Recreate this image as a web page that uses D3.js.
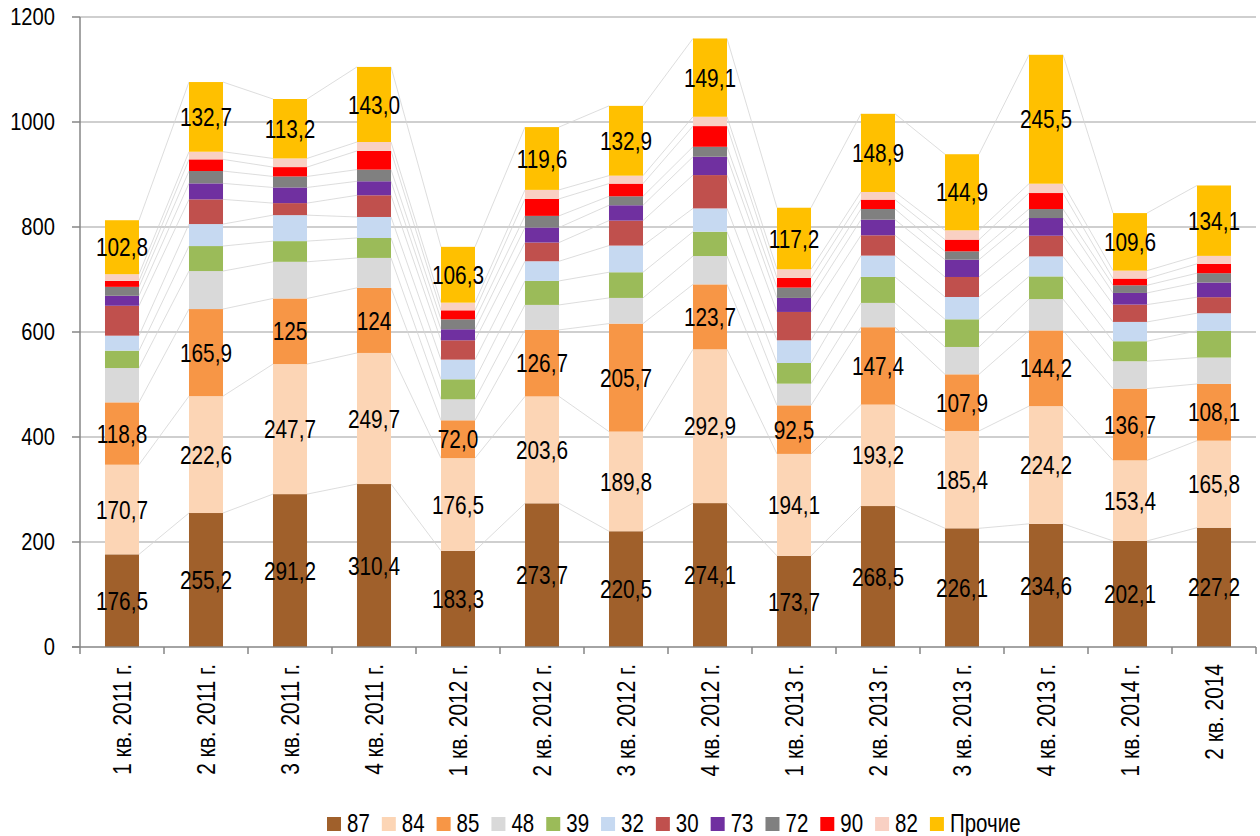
<!DOCTYPE html>
<html>
<head>
<meta charset="utf-8">
<script src="https://cdn.jsdelivr.net/npm/d3@7"></script>
<style>
  body { margin: 0; background: #fff; }
  svg { display: block; }
  text { font-family: "Liberation Sans", Arial, sans-serif; font-size: 24px; fill: #000; }
  .dl { font-size: 26px; }
  .xl { font-size: 25.5px; }
  .lg { font-size: 25px; }
</style>
</head>
<body>
<div id="chart"></div>
<script>
// quarters
var categories = ["1 кв. 2011 г.", "2 кв. 2011 г.", "3 кв. 2011 г.", "4 кв. 2011 г.",
  "1 кв. 2012 г.", "2 кв. 2012 г.", "3 кв. 2012 г.", "4 кв. 2012 г.",
  "1 кв. 2013 г.", "2 кв. 2013 г.", "3 кв. 2013 г.", "4 кв. 2013 г.",
  "1 кв. 2014 г.", "2 кв. 2014"]

// values per region code, bottom to top
var s87 = [176.5, 255.2, 291.2, 310.4, 183.3, 273.7, 220.5, 274.1, 173.7, 268.5, 226.1, 234.6, 202.1, 227.2]
var s84 = [170.7, 222.6, 247.7, 249.7, 176.5, 203.6, 189.8, 292.9, 194.1, 193.2, 185.4, 224.2, 153.4, 165.8]
var s85 = [118.8, 165.9, 125, 124, 72.0, 126.7, 205.7, 123.7, 92.5, 147.4, 107.9, 144.2, 136.7, 108.1]
var s48 = [65.4, 72.4, 69.8, 57, 40, 47.6, 48.9, 54, 41.3, 46.3, 52.1, 59.7, 52.1, 50.2]
var s39 = [33, 47.6, 39.4, 38, 38.1, 45.7, 48.9, 46.3, 39.4, 49.5, 52.7, 43.2, 38.1, 50.8]
var s32 = [28.6, 41.9, 49.5, 40, 37.5, 37.5, 50.8, 44.4, 43.2, 40.6, 42.5, 38.1, 36.8, 33.7]
var s30 = [57, 47, 22.9, 41.3, 36.8, 35.6, 47.6, 63.5, 54, 38.7, 38.1, 39.4, 33, 30.5]
var s73 = [19, 30.5, 29.8, 26.7, 21, 28.6, 29.2, 34.9, 26.7, 29.8, 33, 33.7, 22.2, 27.9]
var s72 = [17, 23.5, 21, 22.2, 19, 22.2, 17.1, 19, 19.7, 20.3, 15.9, 17.1, 14.6, 17.8]
var s90 = [11.4, 22.2, 17.8, 35.6, 17.1, 32.4, 24.1, 39.4, 18.4, 17.8, 22.2, 30.5, 12.7, 17.8]
var s82 = [12.7, 14.6, 16.5, 17, 14.6, 17.1, 15.2, 17.8, 16.5, 14.6, 17.8, 17.8, 15.2, 15.2]
var sOther = [102.8, 132.7, 113.2, 143.0, 106.3, 119.6, 132.9, 149.1, 117.2, 148.9, 144.9, 245.5, 109.6, 134.1]

var seriesNames = ["87", "84", "85", "48", "39", "32", "30", "73", "72", "90", "82", "Прочие"]
var seriesValues = [s87, s84, s85, s48, s39, s32, s30, s73, s72, s90, s82, sOther]
var colors = ["#A0602B", "#FCD5B5", "#F79646", "#D9D9D9", "#9BBB59", "#C6D9F1",
  "#C0504D", "#7030A0", "#808080", "#FF0000", "#F9D0C3", "#FFC000"]
var labelled = ["87", "84", "85", "Прочие"]
// the source shows these two without a decimal
var wholeLabels = {"85": [2, 3]}
var yTicks = [0, 200, 400, 600, 800, 1000, 1200]

var width = 1260, height = 836
var narrow = 0.82   // fake Arial Narrow by squeezing Liberation Sans
var svg = d3.select("#chart").append("svg").attr("width", width).attr("height", height)

var x = d3.scaleBand().domain(categories).range([80, 1256]).paddingInner(0.595).paddingOuter(0.2975)
var y = d3.scaleLinear().domain([0, 1200]).range([647, 17])
var bw = x.bandwidth()

function ntext(g, tx, ty, str, anchor, rot, cls, sx) {
  var tr = "translate(" + tx + "," + ty + ")" + (rot ? " rotate(" + rot + ")" : "") + " scale(" + (sx || narrow) + ",1)"
  return g.append("text").attr("class", cls || null).attr("transform", tr)
    .attr("text-anchor", anchor).attr("dy", "0.35em").text(str)
}

var rows = categories.map(function(c, i) {
  var r = {cat: c}
  seriesNames.forEach(function(s, k) { r[s] = seriesValues[k][i] })
  return r
})
var stacked = d3.stack().keys(seriesNames)(rows)

// gridlines
svg.append("g").selectAll("line").data(yTicks.slice(1)).enter().append("line")
  .attr("x1", 80).attr("x2", 1256)
  .attr("y1", function(d) { return y(d) }).attr("y2", function(d) { return y(d) })
  .attr("stroke", "#BFBFBF").attr("stroke-width", 1.5)

// series lines between bars
var sl = svg.append("g")
stacked.forEach(function(layer) {
  for (var i = 0; i < categories.length - 1; i++) {
    sl.append("line")
      .attr("x1", x(categories[i]) + bw).attr("y1", y(layer[i][1]))
      .attr("x2", x(categories[i + 1])).attr("y2", y(layer[i + 1][1]))
      .attr("stroke", "#D4D4D4").attr("stroke-width", 0.8)
  }
})

// bars
svg.append("g").selectAll("g").data(stacked).enter().append("g")
  .attr("fill", function(d, k) { return colors[k] })
  .selectAll("rect").data(function(d) { return d }).enter().append("rect")
    .attr("x", function(d) { return x(d.data.cat) })
    .attr("width", bw)
    .attr("y", function(d) { return y(d[1]) })
    .attr("height", function(d) { return y(d[0]) - y(d[1]) })

// data labels
function fmt(key, v, i) {
  if (wholeLabels[key] && wholeLabels[key].indexOf(i) >= 0) return d3.format(".0f")(v)
  return d3.format(".1f")(v).replace(".", ",")
}
var lbl = svg.append("g")
stacked.forEach(function(layer) {
  if (labelled.indexOf(layer.key) < 0) return
  layer.forEach(function(d, i) {
    ntext(lbl, x(d.data.cat) + bw / 2, y((d[0] + d[1]) / 2), fmt(layer.key, d[1] - d[0], i), "middle", 0, "dl", 0.8)
  })
})

// y axis
var ya = svg.append("g")
ya.append("line").attr("x1", 80).attr("x2", 80).attr("y1", y(0)).attr("y2", y(1200))
  .attr("stroke", "#868686").attr("stroke-width", 1.5)
yTicks.forEach(function(t) {
  ya.append("line").attr("x1", 72).attr("x2", 80).attr("y1", y(t)).attr("y2", y(t))
    .attr("stroke", "#868686").attr("stroke-width", 1.5)
  ntext(ya, 55, y(t), t, "end", 0, null, 0.84)
})

// x axis
var xa = svg.append("g")
xa.append("line").attr("x1", 72).attr("x2", 1256).attr("y1", y(0)).attr("y2", y(0))
  .attr("stroke", "#868686").attr("stroke-width", 1.5)
d3.range(categories.length + 1).forEach(function(i) {
  var tx = 80 + i * x.step()
  xa.append("line").attr("x1", tx).attr("x2", tx).attr("y1", y(0)).attr("y2", y(0) + 7)
    .attr("stroke", "#868686").attr("stroke-width", 1.5)
})
categories.forEach(function(c) {
  ntext(xa, x(c) + bw / 2, 664, c, "end", -90, "xl")
})

// legend
var lg = svg.append("g")
var lx = 327
seriesNames.forEach(function(s, k) {
  lg.append("rect").attr("x", lx).attr("y", 817).attr("width", 14).attr("height", 14).attr("fill", colors[k])
  var t = ntext(lg, lx + 20, 823, s, "start", 0, "lg")
  lx += 20 + t.node().getComputedTextLength() * narrow + 12
})
</script>
</body>
</html>
